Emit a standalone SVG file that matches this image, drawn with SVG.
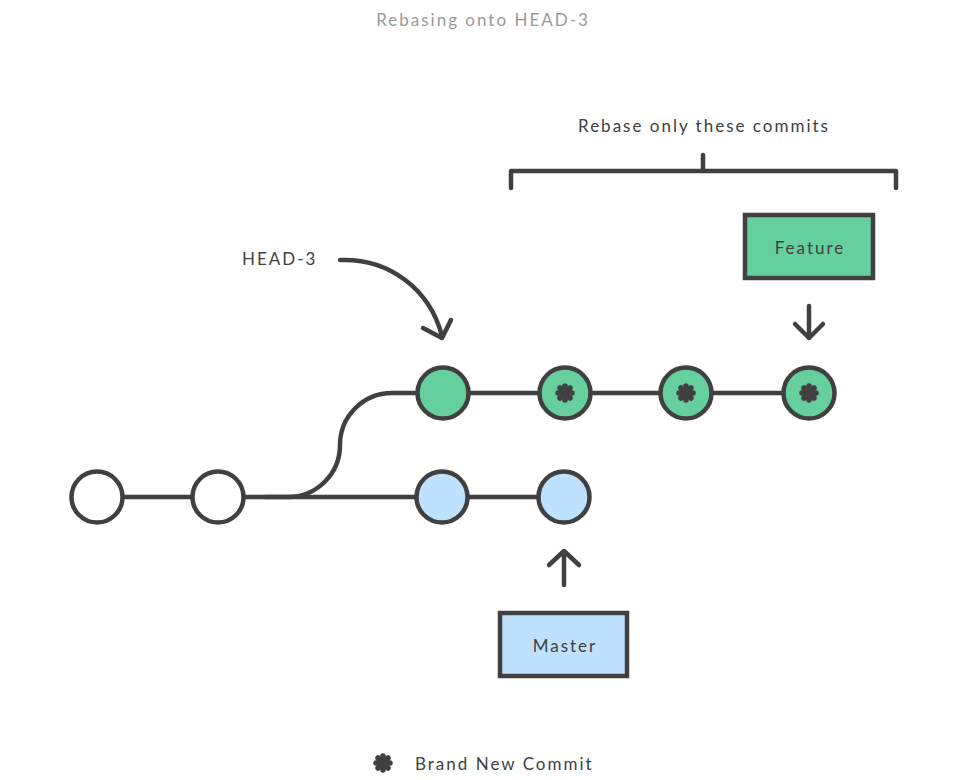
<svg xmlns="http://www.w3.org/2000/svg" width="955" height="780" viewBox="0 0 955 780">
<defs>
<style>
.t{font-family:Lato,"Open Sans",sans-serif;font-size:17px;fill:#404040;letter-spacing:2px}
.ln{fill:none;stroke:#404040;stroke-width:4.5;stroke-linecap:round;stroke-linejoin:round}
.c{stroke:#404040;stroke-width:4.5}
.w{fill:#fff}.g{fill:#66CF9E}.b{fill:#BEE2FE}
</style>
<g id="star">
<g stroke="#404040" stroke-width="5.5" stroke-linecap="round">
<line x1="0" y1="-7" x2="0" y2="7"/>
<line x1="-7" y1="0" x2="7" y2="0"/>
<line x1="-5" y1="-5" x2="5" y2="5"/>
<line x1="-5" y1="5" x2="5" y2="-5"/>
</g>
<circle r="5.5" fill="#404040"/>
</g>
</defs>
<rect width="955" height="780" fill="#fff"/>
<text x="483" y="26" text-anchor="middle" class="t" style="fill:#999">Rebasing onto HEAD-3</text>
<g id="connectors">
<path class="ln" d="M97 497 H564"/>
<path class="ln" d="M265 497 H288 A52 52 0 0 0 340 445 A52 52 0 0 1 392 393 H809"/>
<path class="ln" d="M340 260 C390 258 430 290 442 336"/>
<path class="ln" d="M423 328 L442 338 L451 320"/>
<path class="ln" d="M809 306 V338 M795 324 L809 338 L823 324"/>
<path class="ln" d="M564 585 V551 M549 565 L564 551 L579 565"/>
<path class="ln" d="M511 188 V171 H896 V188 M703 171 V155"/>
</g>
<g id="c1"><circle class="c w" cx="97" cy="497" r="25.5"/></g>
<g id="c2"><circle class="c w" cx="218" cy="497" r="25.5"/></g>
<g id="m1"><circle class="c b" cx="442" cy="497" r="25.5"/></g>
<g id="m2"><circle class="c b" cx="564" cy="497" r="25.5"/></g>
<g id="h3"><circle class="c g" cx="443" cy="393" r="25.5"/></g>
<g id="f1"><circle class="c g" cx="565" cy="393" r="25.5"/><use href="#star" x="565" y="393"/></g>
<g id="f2"><circle class="c g" cx="686" cy="393" r="25.5"/><use href="#star" x="686" y="393"/></g>
<g id="f3"><circle class="c g" cx="809" cy="393" r="25.5"/><use href="#star" x="809" y="393"/></g>
<g id="feature"><rect class="c g" x="745" y="215" width="128" height="63"/><text class="t" x="810" y="254" text-anchor="middle">Feature</text></g>
<g id="master"><rect class="c b" x="500" y="613" width="127" height="63"/><text class="t" x="565" y="652" text-anchor="middle">Master</text></g>
<g id="head3"><text class="t" x="242" y="265">HEAD-3</text></g>
<g id="rebase-label"><text class="t" x="704" y="132" text-anchor="middle">Rebase only these commits</text></g>
<g id="legend"><use href="#star" x="383" y="763"/><text class="t" x="415" y="770">Brand New Commit</text></g>
</svg>
